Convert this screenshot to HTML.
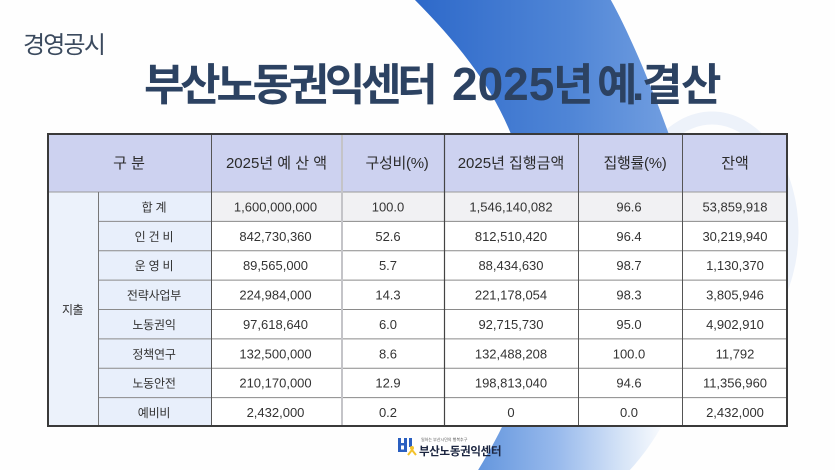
<!DOCTYPE html>
<html><head><meta charset="utf-8">
<style>
html,body{margin:0;padding:0;background:#fff;}
body{width:835px;height:470px;overflow:hidden;}
svg{display:block;}
text{font-family:"Liberation Sans","Noto Sans CJK KR",sans-serif;}
</style></head>
<body>
<svg width="835" height="470" viewBox="0 0 835 470" xmlns="http://www.w3.org/2000/svg">
<defs>
<linearGradient id="gt" x1="420" y1="0" x2="690" y2="0" gradientUnits="userSpaceOnUse">
<stop offset="0" stop-color="#2f6aca"/>
<stop offset="0.55" stop-color="#4f85d6"/>
<stop offset="1" stop-color="#78a3e2"/>
</linearGradient>
<linearGradient id="gb" x1="480" y1="0" x2="670" y2="0" gradientUnits="userSpaceOnUse">
<stop offset="0" stop-color="#6597de"/>
<stop offset="0.4" stop-color="#97b9ec"/>
<stop offset="0.75" stop-color="#d6e4f7"/>
<stop offset="1" stop-color="#ffffff"/>
</linearGradient>
<clipPath id="ct"><rect x="0" y="0" width="835" height="230"/></clipPath>
<clipPath id="cb"><rect x="0" y="230" width="835" height="240"/></clipPath>
</defs>
<rect width="835" height="470" fill="#fefefe"/>
<!-- faint ring -->
<ellipse cx="712" cy="232" rx="80" ry="114" fill="none" stroke="#edf2fa" stroke-width="13"/>
<!-- blue band -->
<path clip-path="url(#ct)" fill="url(#gt)" d="M410,-5 C485,70 535,140 532,260 C540,340 522,400 475,475 L625,475 C680,420 705,330 702,250 C690,180 640,50 608,-5 Z"/>
<path clip-path="url(#cb)" fill="url(#gb)" d="M410,-5 C485,70 535,140 532,260 C540,340 522,400 475,475 L625,475 C680,420 705,330 702,250 C690,180 640,50 608,-5 Z"/>

<!-- header text -->
<text x="23" y="53" font-size="24" fill="#3b4a5e" letter-spacing="-1.8">경영공시</text>
<text y="100" font-size="44" font-weight="700" fill="#2c4262">
<tspan x="144" letter-spacing="-4.3">부산노동권익센터</tspan>
<tspan x="452" font-size="46">2025</tspan>
<tspan x="553">년</tspan>
<tspan x="597">예</tspan>
<tspan x="632">.</tspan>
<tspan x="642" letter-spacing="-1.5">결산</tspan>
</text>

<!-- table backgrounds -->
<rect x="47" y="133" width="741" height="294" fill="#ffffff"/>
<rect x="47" y="133" width="741" height="59" fill="#cdd2f0"/>
<rect x="47" y="192" width="51" height="235" fill="#ecf2fb"/>
<rect x="98" y="192" width="113" height="235" fill="#e8effb"/>
<rect x="211" y="192" width="577" height="29.4" fill="#f1f1f3"/>

<!-- grid lines -->
<g stroke="#8a8a8a" stroke-width="1">
<line x1="98" y1="221.4" x2="788" y2="221.4"/>
<line x1="98" y1="250.75" x2="788" y2="250.75"/>
<line x1="98" y1="280.1" x2="788" y2="280.1"/>
<line x1="98" y1="309.5" x2="788" y2="309.5"/>
<line x1="98" y1="338.9" x2="788" y2="338.9"/>
<line x1="98" y1="368.25" x2="788" y2="368.25"/>
<line x1="98" y1="397.6" x2="788" y2="397.6"/>
</g>
<line x1="47" y1="192" x2="788" y2="192" stroke="#9a9a9a" stroke-width="1"/>
<line x1="98.5" y1="192" x2="98.5" y2="427" stroke="#777" stroke-width="1"/>
<line x1="211.5" y1="133" x2="211.5" y2="427" stroke="#555" stroke-width="1"/>
<line x1="342" y1="133" x2="342" y2="427" stroke="#c4c4c8" stroke-width="2"/>
<line x1="444.5" y1="133" x2="444.5" y2="427" stroke="#444" stroke-width="1.2"/>
<line x1="578.5" y1="133" x2="578.5" y2="427" stroke="#555" stroke-width="1"/>
<line x1="682.5" y1="133" x2="682.5" y2="427" stroke="#555" stroke-width="1"/>
<rect x="48" y="134" width="739" height="292" fill="none" stroke="#3a3a3a" stroke-width="2"/>

<!-- header cells -->
<g font-size="15" fill="#2b2b2b" text-anchor="middle">
<text x="129" y="168">구 분</text>
<text x="276.5" y="168">2025년 예 산 액</text>
<text x="397" y="168" letter-spacing="-0.3">구성비(%)</text>
<text x="511" y="168">2025년 집행금액</text>
<text x="635" y="168" letter-spacing="-0.3">집행률(%)</text>
<text x="735" y="168">잔액</text>
</g>

<text x="72.5" y="314" font-size="12" fill="#333" text-anchor="middle" letter-spacing="-0.5">지출</text>

<!-- row labels -->
<g font-size="12" fill="#333" text-anchor="middle" letter-spacing="-0.2">
<text x="154" y="211.4">합 계</text>
<text x="154" y="240.8">인 건 비</text>
<text x="154" y="270.1">운 영 비</text>
<text x="154" y="299.5">전략사업부</text>
<text x="154" y="328.9">노동권익</text>
<text x="154" y="358.3">정책연구</text>
<text x="154" y="387.6">노동안전</text>
<text x="154" y="417">예비비</text>
</g>

<!-- values -->
<g font-size="13" fill="#333" text-anchor="middle">
<text x="275.5" y="211.4">1,600,000,000</text>
<text x="275.5" y="240.8">842,730,360</text>
<text x="275.5" y="270.1">89,565,000</text>
<text x="275.5" y="299.5">224,984,000</text>
<text x="275.5" y="328.9">97,618,640</text>
<text x="275.5" y="358.3">132,500,000</text>
<text x="275.5" y="387.6">210,170,000</text>
<text x="275.5" y="417">2,432,000</text>

<text x="388" y="211.4">100.0</text>
<text x="388" y="240.8">52.6</text>
<text x="388" y="270.1">5.7</text>
<text x="388" y="299.5">14.3</text>
<text x="388" y="328.9">6.0</text>
<text x="388" y="358.3">8.6</text>
<text x="388" y="387.6">12.9</text>
<text x="388" y="417">0.2</text>

<text x="511" y="211.4">1,546,140,082</text>
<text x="511" y="240.8">812,510,420</text>
<text x="511" y="270.1">88,434,630</text>
<text x="511" y="299.5">221,178,054</text>
<text x="511" y="328.9">92,715,730</text>
<text x="511" y="358.3">132,488,208</text>
<text x="511" y="387.6">198,813,040</text>
<text x="511" y="417">0</text>

<text x="629" y="211.4">96.6</text>
<text x="629" y="240.8">96.4</text>
<text x="629" y="270.1">98.7</text>
<text x="629" y="299.5">98.3</text>
<text x="629" y="328.9">95.0</text>
<text x="629" y="358.3">100.0</text>
<text x="629" y="387.6">94.6</text>
<text x="629" y="417">0.0</text>

<text x="735" y="211.4">53,859,918</text>
<text x="735" y="240.8">30,219,940</text>
<text x="735" y="270.1">1,130,370</text>
<text x="735" y="299.5">3,805,946</text>
<text x="735" y="328.9">4,902,910</text>
<text x="735" y="358.3">11,792</text>
<text x="735" y="387.6">11,356,960</text>
<text x="735" y="417">2,432,000</text>
</g>

<!-- logo -->
<g>
<rect x="398" y="438" width="3" height="14" fill="#2a5fc0"/>
<rect x="404" y="438" width="3" height="14" fill="#2a5fc0"/>
<rect x="398" y="443" width="9" height="2.5" fill="#2a5fc0"/>
<rect x="398" y="449.5" width="9" height="2.5" fill="#2a5fc0"/>
<rect x="409" y="438" width="3" height="9" fill="#2a5fc0"/>
<circle cx="412" cy="448" r="2" fill="#f3c22b"/>
<path d="M408,455 L412,450 L416,455" fill="none" stroke="#f3c22b" stroke-width="2"/>
</g>
<text x="421" y="441" font-size="4" fill="#555">일하는 부산시민의 행복추구</text>
<text x="419" y="455" font-size="11.5" font-weight="700" fill="#1b2540" letter-spacing="-0.3">부산노동권익센터</text>
</svg>
</body></html>
